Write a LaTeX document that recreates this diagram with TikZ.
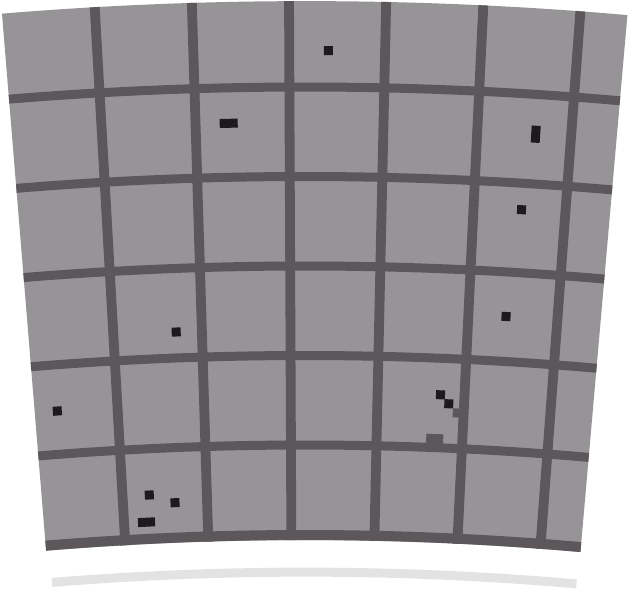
\documentclass[tikz,border=0pt]{standalone}
\definecolor{cellc}{RGB}{150,148,151}
\definecolor{linec}{RGB}{91,87,91}
\definecolor{markc}{RGB}{28,26,29}
\definecolor{shadowc}{RGB}{227,227,227}
\tikzset{
  gridline/.style={draw=linec, line width=9pt},
  radialline/.style={draw=linec, line width=9.8pt},
  baseline arc/.style={draw=linec, line width=10pt},
  shadowarc/.style={draw=shadowc, line width=9pt},
}
\newcommand\blk[5]{%
  \pgfmathsetmacro\blkrot{-asin((#2-305)/(3700-#3))}%
  \fill[#1, rotate around={\blkrot:(#2,-#3)}] (#2-#4/2,-#3-#5/2) rectangle (#2+#4/2,-#3+#5/2);}
\begin{document}
\begin{tikzpicture}[x=1pt,y=1pt]
\useasboundingbox (0,0) rectangle (628,-589);
\coordinate (C) at (305,-3700);
\def\aL{94.7}\def\aR{85.0}\def\rO{3699}\def\rI{3160}
% faint shadow arc
\draw[shadowarc] ([shift={(94.64:3128pt)}]C) arc[start angle=94.64, end angle=85.02, radius=3128pt];
% sector
\fill[cellc] ([shift={(\aL:\rO pt)}]C) arc[start angle=\aL, end angle=\aR, radius=\rO pt]
  -- ([shift={(\aR:\rI pt)}]C) arc[start angle=\aR, end angle=\aL, radius=\rI pt] -- cycle;
\begin{scope}
\clip ([shift={(\aL:\rO pt)}]C) arc[start angle=\aL, end angle=\aR, radius=\rO pt]
  -- ([shift={(\aR:\rI pt)}]C) arc[start angle=\aR, end angle=\aL, radius=\rI pt] -- cycle;
\foreach \a in {93.26,91.754,90.248,88.742,87.236,85.73}
  \draw[radialline] ([shift={(\a:3100pt)}]C) -- ([shift={(\a:3760pt)}]C);
\foreach \r in {3613,3523.5,3434,3344.5,3255}
  \draw[gridline] ([shift={(96:\r pt)}]C) arc[start angle=96, end angle=84, radius=\r pt];
\draw[baseline arc] ([shift={(96:3165pt)}]C) arc[start angle=96, end angle=84, radius=3165pt];
% small marks
\blk{markc}{328.3}{50.7}{9}{9}
\blk{markc}{228.7}{123.3}{18}{9}
\blk{markc}{535.7}{134.2}{9}{17}
\blk{markc}{521.5}{209.7}{9}{9}
\blk{markc}{506}{316.5}{9}{9}
\blk{markc}{176.2}{332}{9}{9}
\blk{markc}{57.3}{411}{9}{9}
\blk{markc}{149.3}{495}{9}{9}
\blk{markc}{175}{502.7}{9}{9}
\blk{markc}{146.5}{522.2}{17}{9}
\blk{markc}{440.5}{394.8}{9}{9}
\blk{markc}{448.8}{403.8}{9}{9}
\blk{linec}{457.8}{413}{10}{9}
\blk{linec}{434.7}{439}{17}{10}
\end{scope}
\end{tikzpicture}
\end{document}
